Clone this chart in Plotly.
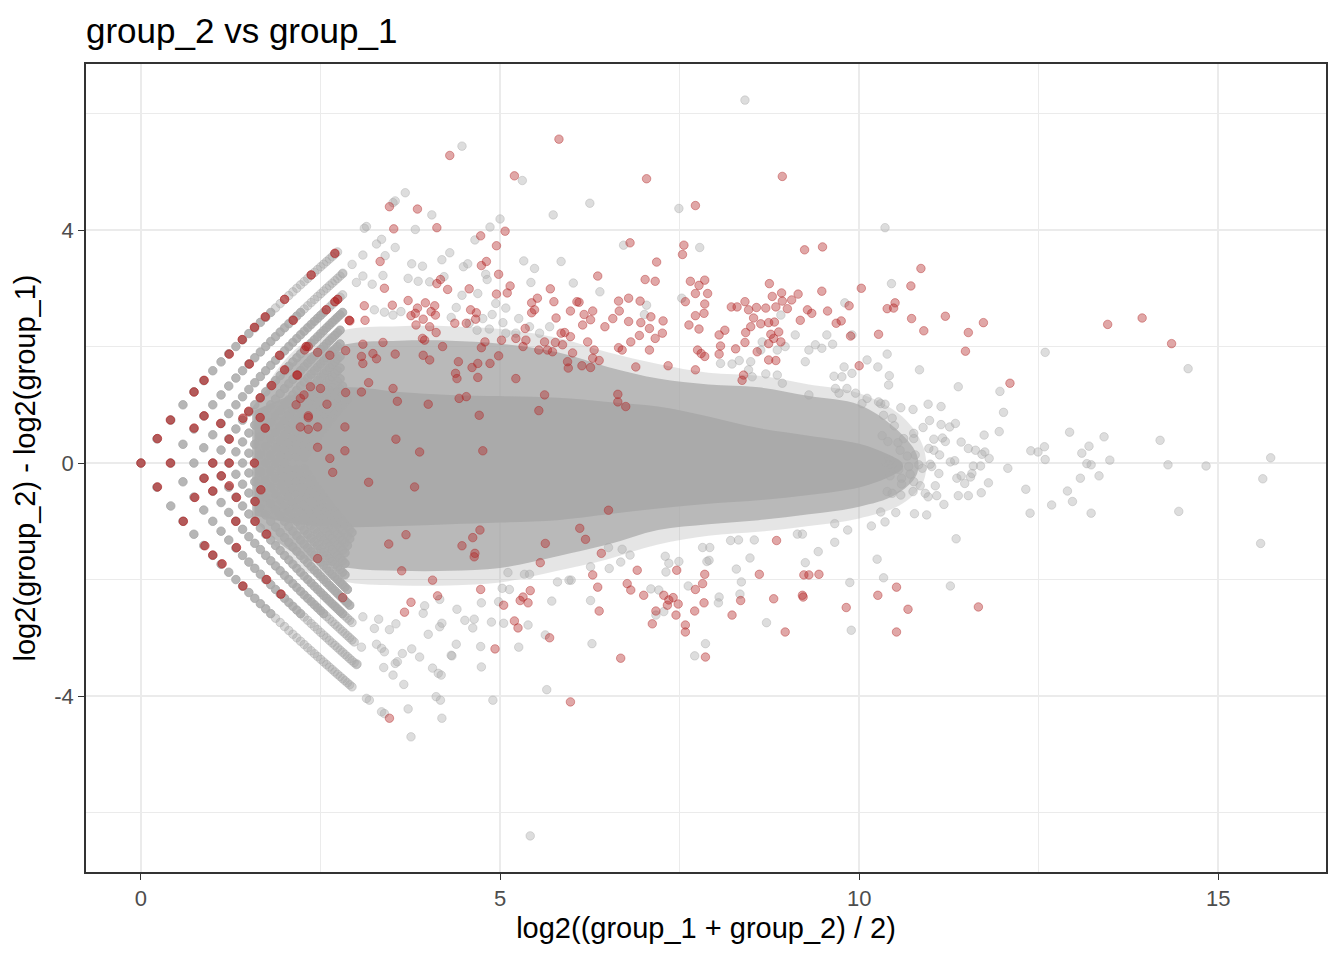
import numpy as np
import plotly.graph_objects as go

# MA plot: group_2 vs group_1
# low counts form a lattice: summed counts over 3 replicates (mean = sum / 3)
upper_arm_base = [3, 4, 5, 6, 7, 8, 9, 10, 11, 12, 13, 14]      # group_1 sum on each upper arm
upper_arm_top = [37, 38, 37, 36, 34, 33, 32, 31, 30, 30, 30, 30]  # largest group_2 sum seen on that arm
lower_arm_base = [3, 4, 5, 6, 7, 8, 9, 10, 11, 12, 13, 14]      # group_2 sum on each lower arm
lower_arm_top = [43, 44, 42, 40, 38, 36, 34, 33, 32, 32, 32, 32]  # largest group_1 sum seen on that arm
equal_counts = [3, 4, 5, 6, 7, 8, 9, 10, 11, 12]

# envelope of the dense cloud (too many overlapping genes to list one by one)
core_A = [1.58, 2.2, 2.9, 3.6, 4.3, 5.0, 5.8, 6.5, 7.2, 7.9, 8.6, 9.3, 10.0, 10.4, 10.6]
core_top = [0.9, 1.2, 1.3, 1.22, 1.17, 1.15, 1.12, 1.05, 0.97, 0.8, 0.6, 0.47, 0.33, 0.15, 0.0]
core_bottom = [-0.9, -1.05, -1.1, -1.08, -1.05, -1.02, -0.98, -0.88, -0.78, -0.7, -0.64, -0.55, -0.42, -0.25, -0.1]
halo_A = [1.55, 2.2, 2.9, 3.6, 4.3, 5.0, 5.8, 6.5, 7.2, 7.9, 8.6, 9.3, 10.0, 10.5, 10.8]
halo_top = [0.95, 1.8, 2.05, 2.1, 2.1, 2.05, 1.9, 1.65, 1.45, 1.35, 1.3, 1.15, 1.0, 0.6, 0.15]
halo_bottom = [-0.95, -1.6, -1.8, -1.85, -1.85, -1.8, -1.6, -1.4, -1.15, -1.05, -0.98, -0.88, -0.75, -0.55, -0.2]
fringe_A = [1.55, 2.2, 2.9, 3.6, 4.3, 5.0, 5.8, 6.5, 7.2, 7.9, 8.6, 9.3, 10.0, 10.6, 10.9]
fringe_top = [0.95, 2.0, 2.3, 2.35, 2.35, 2.3, 2.15, 1.9, 1.7, 1.55, 1.5, 1.35, 1.2, 0.8, 0.25]
fringe_bottom = [-0.95, -1.8, -2.05, -2.1, -2.1, -2.05, -1.85, -1.65, -1.4, -1.25, -1.18, -1.08, -0.95, -0.7, -0.3]

# scattered non-significant genes (A, M)
gray_upper = [
    (8.41, 6.23), (4.47, 5.44), (5.31, 4.85), (3.68, 4.64), (3.54, 4.50), (3.51, 4.47), (4.05, 4.26),
    (5.74, 4.26), (3.14, 4.06), (3.11, 4.03), (3.82, 4.01), (5.00, 4.19), (4.86, 4.05), (4.65, 3.83),
    (3.35, 3.84), (3.28, 3.76), (3.54, 3.70), (3.40, 3.56), (3.09, 3.57), (4.30, 3.61), (4.19, 3.49),
    (5.33, 3.47), (5.48, 3.34), (5.85, 3.46), (3.77, 3.42), (3.92, 3.38), (4.49, 3.37), (4.55, 3.42),
    (4.80, 3.24), (4.82, 3.15), (2.94, 3.41), (2.81, 3.26), (3.09, 3.21), (3.00, 3.10), (3.22, 3.07),
    (3.37, 3.22), (3.72, 3.17), (3.86, 3.12), (4.02, 3.11), (4.22, 3.20), (5.43, 3.10), (6.02, 3.09),
    (4.47, 2.88), (4.69, 2.91), (4.94, 2.74), (5.08, 2.66), (5.26, 2.48), (3.25, 2.63), (3.39, 2.59),
    (3.51, 2.54), (3.62, 2.60), (4.39, 2.67), (4.32, 2.50), (4.76, 2.48), (4.89, 2.55), (4.57, 2.40),
    (4.68, 2.28), (4.85, 2.30), (5.04, 2.41), (5.08, 2.23), (5.22, 2.23), (5.41, 2.34), (5.55, 2.23),
    (5.69, 2.34), (6.25, 4.46), (7.49, 4.37), (6.72, 3.74), (7.78, 3.70), (10.36, 4.04), (6.39, 2.94),
    (7.53, 2.83), (7.04, 2.71), (7.01, 2.55), (9.80, 2.75), (8.91, 2.54), (9.11, 2.20), (9.55, 2.20),
    (9.63, 2.04), (9.90, 2.20), (10.11, 1.77), (10.26, 1.65), (9.30, 1.94), (9.25, 1.74), (9.39, 2.03),
    (9.48, 1.97), (9.79, 1.65), (9.90, 1.54), (9.76, 1.48), (9.65, 1.49), (9.83, 1.28), (9.67, 1.28),
    (9.72, 1.20), (9.95, 1.20), (10.04, 1.02), (10.11, 1.11), (10.27, 1.05), (9.30, 1.17), (8.07, 1.71),
    (8.23, 1.70), (8.33, 1.76), (8.49, 1.74), (8.46, 1.60), (8.51, 1.48), (8.70, 1.53), (8.86, 1.51),
    (8.93, 1.37), (8.65, 2.08), (8.63, 1.94), (8.97, 2.00), (8.86, 1.94),
]
gray_right = [
    (10.45, 3.08), (10.39, 1.87), (10.84, 1.60), (10.42, 1.50), (10.41, 1.34), (11.38, 1.31), (11.96, 1.23),
    (12.01, 0.87), (12.59, 1.90), (14.58, 1.62), (11.95, 0.54), (11.74, 0.48), (12.07, -0.09), (11.80, -0.34),
    (11.70, -0.51), (11.52, -0.56), (11.38, -0.56), (11.18, -0.71), (11.35, -1.30), (10.94, -0.89),
    (10.77, -0.87), (10.51, -0.85), (10.36, -1.01), (12.32, -0.45), (12.38, -0.86), (12.68, -0.72),
    (12.90, -0.48), (12.97, -0.66), (13.08, -0.26), (13.34, -0.22), (13.23, -0.86), (12.39, 0.21),
    (12.49, 0.19), (12.58, 0.28), (12.59, 0.06), (12.93, 0.53), (13.10, 0.17), (13.20, 0.29), (13.17, -0.01),
    (13.23, -0.03), (13.41, 0.45), (13.49, 0.05), (14.19, 0.39), (14.30, -0.03), (14.83, -0.05),
    (14.45, -0.83), (15.73, 0.09), (15.62, -0.27), (15.59, -1.38), (10.36, 1.01), (10.30, 1.02),
    (10.58, 0.95), (10.75, 0.92), (10.96, 1.01), (11.14, 0.97), (10.46, 0.77), (10.49, 0.64), (10.34, 0.82),
    (10.98, 0.73), (10.89, 0.61), (11.14, 0.66), (11.26, 0.62), (11.34, 0.68), (10.32, 0.47), (10.40, 0.37),
    (10.54, 0.35), (10.62, 0.42), (10.76, 0.51), (10.76, 0.42), (11.04, 0.41), (11.16, 0.43), (11.20, 0.37),
    (11.42, 0.36), (10.97, 0.25), (11.04, 0.22), (11.12, 0.14), (11.52, 0.25), (11.62, 0.22), (11.71, 0.15),
    (11.75, 0.19), (11.81, 0.08), (10.57, 0.22), (10.67, 0.12), (10.78, 0.14), (10.83, -0.03), (10.37, 0.02),
    (10.43, 0.04), (10.41, -0.03), (10.55, -0.11), (10.69, -0.06), (10.71, -0.19), (10.88, -0.09),
    (10.99, -0.02), (11.01, -0.06), (11.27, 0.02), (11.33, 0.04), (11.59, -0.05), (11.69, -0.05),
    (11.42, -0.22), (11.57, -0.18), (11.55, -0.24), (11.36, -0.26), (11.47, -0.35), (10.43, -0.22),
    (10.59, -0.26), (10.59, -0.36), (10.76, -0.32), (10.85, -0.39), (11.06, -0.39), (11.11, -0.18),
    (10.39, -0.49), (10.46, -0.52), (10.58, -0.55), (10.75, -0.49), (10.92, -0.52), (10.96, -0.58),
    (11.08, -0.56), (10.30, -0.84), (11.27, -2.11), (10.34, -1.97),
]
gray_lower = [
    (3.76, -4.70), (3.35, -4.27), (3.39, -4.30), (3.72, -4.22), (4.19, -4.38), (4.11, -4.01), (4.17, -4.07),
    (4.90, -4.07), (5.65, -3.89), (3.14, -4.04), (3.18, -4.07), (3.01, -3.45), (3.51, -3.64), (3.66, -3.80),
    (3.38, -3.51), (3.54, -3.44), (4.06, -3.52), (4.14, -3.61), (4.18, -3.64), (4.74, -3.50), (4.39, -3.11),
    (4.33, -3.31), (3.88, -3.33), (3.64, -3.27), (3.77, -3.19), (3.57, -3.41), (3.28, -3.11), (3.35, -3.18),
    (3.39, -3.24), (3.07, -3.16), (4.73, -3.15), (5.26, -3.16), (4.00, -2.94), (4.16, -2.81), (4.19, -2.75),
    (4.32, -3.30), (4.88, -2.73), (5.05, -2.75), (5.39, -2.78), (5.72, -2.37), (5.63, -2.95), (4.40, -2.51),
    (4.51, -2.70), (4.64, -2.68), (4.74, -2.40), (4.62, -2.83), (3.46, -2.86), (3.55, -2.76), (3.31, -2.68),
    (3.25, -2.84), (3.09, -2.64), (3.95, -2.45), (4.16, -2.34), (3.93, -2.58), (5.34, -1.91), (5.41, -1.91),
    (5.11, -1.88), (5.03, -2.15), (5.13, -2.17), (4.98, -2.38), (5.80, -2.04), (5.96, -2.01), (5.42, -6.40),
    (6.28, -3.10), (7.71, -3.31), (7.86, -3.10), (8.71, -2.74), (9.89, -2.87), (9.87, -2.05), (10.25, -1.65),
    (8.48, -1.63), (8.36, -2.04), (8.34, -2.25), (8.29, -1.82), (8.05, -2.30), (8.04, -2.40), (7.62, -2.11),
    (7.10, -2.16), (7.21, -2.18), (7.28, -2.55), (7.17, -2.61), (6.26, -2.36), (9.25, -1.71), (9.43, -1.52),
    (9.66, -1.36), (9.84, -1.15), (9.66, -1.04), (10.17, -1.08), (9.14, -1.22), (9.21, -1.22), (8.54, -1.32),
    (8.21, -1.33), (8.32, -1.32), (7.82, -1.45), (7.92, -1.45), (7.91, -1.67), (7.88, -1.69), (7.49, -1.69),
    (7.30, -1.60), (7.35, -1.72), (7.31, -1.87), (6.68, -1.70), (6.52, -1.81), (6.26, -1.78), (5.99, -2.01),
    (6.81, -1.58), (6.70, -1.48), (6.51, -1.45),
]

# significant genes (A, M)
sig_lattice = [
    (0.00, 0.00), (0.23, 0.42), (0.41, 0.74), (0.88, 1.42), (0.74, 1.22), (1.23, 1.87), (1.41, 2.12),
    (1.58, 2.33), (1.73, 2.51), (2.00, 2.81), (2.37, 3.23), (2.70, 3.60), (0.41, 0.00), (1.00, 0.00),
    (1.23, 0.00), (1.58, 0.00), (0.88, 0.81), (0.74, 0.60), (1.11, 0.68), (1.23, 0.41), (1.51, 1.70),
    (2.12, 2.45), (1.73, 0.60), (2.00, 1.60), (1.82, 1.33), (2.18, 1.51), (2.70, 2.77), (2.74, 2.81),
    (2.58, 2.63), (2.90, 2.45), (2.30, 2.00), (1.93, 1.85), (1.66, 1.12), (1.50, 0.89), (1.42, 0.77),
    (1.66, 0.78), (0.23, -0.41), (0.88, -0.26), (1.00, -0.48), (0.75, -0.59), (0.59, -1.00), (1.12, -0.22),
    (1.23, -0.39), (1.33, -0.59), (1.67, -0.46), (1.59, -0.66), (1.32, -1.00), (1.59, -1.00), (1.75, -1.22),
    (0.89, -1.42), (1.00, -1.58), (1.13, -1.73), (1.33, -1.45), (1.42, -2.11), (1.75, -2.00), (1.95, -2.25),
]
sig_upper = [
    (4.30, 5.28), (5.82, 5.56), (5.20, 4.93), (3.46, 4.40), (3.85, 4.36), (3.52, 4.02), (4.12, 4.04),
    (5.07, 3.98), (4.73, 3.90), (4.95, 3.73), (3.33, 3.46), (4.74, 3.39), (4.81, 3.46), (4.98, 3.24),
    (3.39, 3.00), (4.17, 3.15), (4.12, 3.08), (4.27, 2.98), (4.57, 2.99), (5.14, 3.04), (5.10, 2.92),
    (4.95, 2.90), (5.70, 2.99), (5.75, 2.77), (5.52, 2.83), (5.44, 2.75), (5.48, 2.63), (5.44, 2.58),
    (6.07, 2.77), (5.98, 2.61), (5.78, 2.49), (3.11, 2.70), (3.50, 2.71), (3.72, 2.79), (3.96, 2.75),
    (3.85, 2.66), (3.82, 2.57), (3.76, 2.53), (4.09, 2.70), (4.04, 2.60), (4.10, 2.54), (4.59, 2.63),
    (4.67, 2.58), (4.66, 2.47), (3.12, 2.45), (2.91, 2.44), (3.93, 2.47), (4.02, 2.34), (4.37, 2.40),
    (4.53, 2.40), (3.83, 2.37), (4.11, 2.24), (5.35, 2.31), (3.92, 2.14), (3.95, 2.11), (4.20, 2.00),
    (4.79, 2.08), (4.74, 1.98), (5.02, 2.11), (5.22, 2.14), (5.36, 2.11), (5.32, 2.00), (5.54, 1.94),
    (5.62, 2.08), (5.66, 1.94), (5.73, 1.91), (5.77, 2.07), (5.85, 2.23), (5.90, 2.24), (5.98, 2.17),
    (5.87, 2.03), (6.01, 1.89), (3.09, 2.04), (2.85, 1.93), (2.63, 1.85), (2.46, 1.90), (2.28, 1.94),
    (2.33, 2.00), (3.07, 1.83), (3.23, 1.88), (3.28, 1.79), (3.37, 2.07), (3.54, 1.87), (3.93, 1.85),
    (4.02, 1.77), (4.42, 1.74), (4.38, 1.54), (4.40, 1.45), (4.61, 1.64), (4.69, 1.71), (4.69, 1.47),
    (4.86, 1.71), (4.98, 1.84), (5.22, 1.45), (5.62, 1.17), (5.54, 0.90), (5.94, 1.74), (5.95, 1.63),
    (2.17, 1.51), (2.36, 1.31), (2.50, 1.28), (2.27, 1.17), (2.22, 1.11), (2.16, 1.00), (2.59, 1.01),
    (2.85, 1.21), (3.07, 1.22), (3.17, 1.38), (3.51, 1.28), (3.57, 1.06), (4.00, 1.01), (4.43, 1.11),
    (4.53, 1.14), (4.71, 0.82), (2.33, 0.81), (3.09, 1.71), (2.84, 0.62), (2.46, 0.62), (2.33, 0.58),
    (2.22, 0.62), (2.33, 0.78), (3.55, 0.41), (2.46, 0.27), (2.84, 0.21), (2.63, 0.08), (2.67, -0.16),
    (3.88, 0.19), (4.76, 0.21), (3.17, -0.33), (3.81, -0.41),
    (7.04, 4.88), (8.93, 4.92), (7.72, 4.42), (6.81, 3.78), (7.56, 3.74), (7.54, 3.58), (7.18, 3.45),
    (9.24, 3.66), (9.49, 3.71), (6.36, 3.21), (7.02, 3.15), (7.16, 3.12), (7.65, 3.12), (7.77, 3.05),
    (7.85, 3.14), (7.89, 2.91), (7.72, 2.91), (7.85, 2.73), (7.72, 2.53), (7.84, 2.57), (7.77, 2.30),
    (7.63, 2.37), (7.58, 2.77), (6.65, 2.78), (6.79, 2.83), (6.95, 2.78), (6.66, 2.61), (6.10, 2.76),
    (6.17, 2.55), (6.29, 2.61), (6.15, 2.37), (6.26, 2.46), (6.46, 2.34), (6.57, 2.48), (6.79, 2.43),
    (6.96, 2.41), (7.10, 2.51), (7.27, 2.44), (7.26, 2.23), (7.08, 2.31), (7.16, 2.14), (6.94, 2.19),
    (6.82, 2.08), (6.22, 2.08), (6.31, 1.94), (6.65, 1.98), (6.70, 1.94), (6.14, 1.67), (6.26, 1.64),
    (6.38, 1.76), (6.29, 1.80), (6.89, 1.65), (7.08, 1.94), (6.64, 1.18), (6.64, 1.05), (6.75, 0.97),
    (8.05, 2.20), (8.13, 2.28), (8.07, 2.01), (8.05, 1.87), (7.80, 1.88), (7.75, 1.94), (7.85, 1.83),
    (7.34, 1.67), (7.72, 1.60), (8.39, 1.51), (8.37, 1.42), (8.22, 2.68), (8.30, 2.68), (8.41, 2.77),
    (8.46, 2.63), (8.53, 2.49), (8.49, 2.34), (8.42, 2.24), (8.41, 2.07), (8.28, 1.96), (8.58, 1.91),
    (8.63, 2.39), (8.74, 2.41), (8.82, 2.42), (8.77, 2.21), (8.81, 2.14), (8.88, 2.25), (8.91, 2.08),
    (8.74, 2.05), (8.75, 3.08), (8.79, 2.86), (8.92, 2.92), (8.93, 2.78), (9.00, 2.65), (9.06, 2.80),
    (9.15, 2.90), (8.57, 2.67), (8.70, 2.66), (8.84, 2.68), (9.18, 2.45), (9.28, 2.63), (9.34, 2.57),
    (9.48, 2.95), (9.56, 2.61), (9.68, 2.40), (9.75, 2.44), (9.86, 2.70), (9.88, 2.18), (10.03, 3.00),
    (10.27, 2.21), (10.39, 2.65), (10.50, 2.75), (10.48, 2.66), (10.00, 1.67), (8.84, 1.76), (8.74, 1.77),
    (10.86, 3.34), (10.72, 3.04), (10.73, 2.48), (11.20, 2.52), (10.90, 2.27), (11.52, 2.24), (11.73, 2.41),
    (11.48, 1.92), (12.10, 1.37), (13.46, 2.38), (13.94, 2.49), (14.35, 2.05),
]
sig_lower = [
    (3.69, -1.23), (3.45, -1.39), (2.46, -1.64), (3.63, -1.85), (4.06, -2.01), (4.13, -2.28), (3.76, -2.39),
    (3.67, -2.56), (2.81, -2.31), (4.47, -1.42), (4.62, -1.28), (4.72, -1.15), (4.65, -1.55), (4.64, -1.61),
    (4.73, -2.17), (5.05, -2.44), (4.93, -3.19), (5.63, -1.38), (5.56, -1.71), (5.42, -2.19), (5.32, -2.30),
    (5.28, -2.36), (5.39, -2.40), (5.20, -2.71), (5.25, -2.83), (5.69, -3.00), (5.98, -4.10), (3.46, -4.38),
    (6.51, -0.81), (6.11, -1.12), (6.19, -1.31), (6.41, -1.55), (6.29, -1.92), (6.36, -2.13), (6.38, -2.54),
    (6.91, -1.84), (6.77, -2.07), (6.82, -2.18), (7.00, -2.27), (7.28, -2.27), (7.35, -2.35), (7.41, -2.31),
    (7.33, -2.44), (7.48, -2.42), (7.17, -2.54), (7.45, -2.61), (7.12, -2.76), (7.46, -1.84), (7.58, -2.78),
    (7.58, -2.90), (7.71, -2.54), (7.84, -2.40), (7.72, -2.17), (7.82, -2.07), (7.85, -1.91), (7.86, -3.33),
    (6.68, -3.35), (8.23, -2.61), (8.35, -2.36), (8.61, -1.91), (8.81, -2.33), (8.85, -1.33), (8.97, -2.90),
    (9.21, -2.27), (9.22, -2.30), (9.23, -1.92), (9.30, -1.92), (9.44, -1.91), (9.82, -2.48), (10.26, -2.27),
    (10.52, -2.13), (10.52, -2.90), (10.68, -2.51), (11.66, -2.47),
]

x_ticks = [0, 5, 10, 15]
y_ticks = [-4, 0, 4]
y_tick_labels = ["-4", "0", "4"]

GRAY = "rgba(169,169,169,0.4)"
RED = "rgba(178,34,34,0.4)"
RED_STACKED = "rgba(178,34,34,0.62)"   # several genes share each lattice spot
PT = 8.5

# lattice of low-count genes
lat_g1, lat_g2 = [], []
for base, top in zip(upper_arm_base, upper_arm_top):
    for k in range(base + 1, top + 1):
        lat_g1.append(base)
        lat_g2.append(k)
for base, top in zip(lower_arm_base, lower_arm_top):
    for k in range(base + 1, top + 1):
        lat_g1.append(k)
        lat_g2.append(base)
for c in equal_counts:
    lat_g1.append(c)
    lat_g2.append(c)

g1 = np.array(lat_g1) / 3.0
g2 = np.array(lat_g2) / 3.0
lat_A = np.log2((g1 + g2) / 2)
lat_M = np.log2(g2) - np.log2(g1)
# arm tips hold few genes, so they look lighter
lat_colors = ["rgba(169,169,169,0.45)" if abs(m) > 2.6 else "rgba(169,169,169,0.85)" for m in lat_M]

gray_pts = gray_upper + gray_right + gray_lower
sig_pts = sig_upper + sig_lower

fig = go.Figure()

# dense cloud, from outer fringe to the solid core
for xs, top, bottom, fill in [
    (fringe_A, fringe_top, fringe_bottom, "rgba(169,169,169,0.3)"),
    (halo_A, halo_top, halo_bottom, "rgba(169,169,169,0.75)"),
    (core_A, core_top, core_bottom, "rgb(170,170,170)"),
]:
    fig.add_trace(go.Scatter(
        x=xs + xs[::-1], y=top + bottom[::-1],
        fill="toself", fillcolor=fill, line_shape="spline",
        mode="lines", line=dict(width=0), hoverinfo="skip", showlegend=False
    ))

fig.add_trace(go.Scatter(
    x=lat_A, y=lat_M, mode="markers",
    marker=dict(size=PT, color=lat_colors, line=dict(width=1, color=lat_colors)),
    hoverinfo="skip", showlegend=False
))

fig.add_trace(go.Scatter(
    x=[p[0] for p in gray_pts], y=[p[1] for p in gray_pts], mode="markers",
    marker=dict(size=PT, color=GRAY, line=dict(width=1, color=GRAY)),
    hoverinfo="skip", showlegend=False
))

fig.add_trace(go.Scatter(
    x=[p[0] for p in sig_lattice], y=[p[1] for p in sig_lattice], mode="markers",
    marker=dict(size=PT, color=RED_STACKED, line=dict(width=1, color=RED_STACKED)),
    hoverinfo="skip", showlegend=False
))

fig.add_trace(go.Scatter(
    x=[p[0] for p in sig_pts], y=[p[1] for p in sig_pts], mode="markers",
    marker=dict(size=PT, color=RED, line=dict(width=1, color=RED)),
    hoverinfo="skip", showlegend=False
))

axis_common = dict(
    showline=True, mirror=True, linecolor="#333333", linewidth=1.5,
    ticks="outside", ticklen=6, tickwidth=1.3, tickcolor="#333333",
    showgrid=True, gridcolor="#ebebeb", gridwidth=2.2, zeroline=False,
    tickfont=dict(size=22, color="#4d4d4d"),
)

# the page has an 8px body margin, so the figure is sized to sit inside it
fig.update_layout(
    width=1328, height=944,
    margin=dict(l=78, r=8, t=56, b=80),
    paper_bgcolor="white", plot_bgcolor="white",
    font=dict(family="Liberation Sans, Arial, sans-serif", color="black"),
    title=dict(
        text="group_2 vs group_1", x=0, xref="paper", xanchor="left",
        y=1 - 23 / 944, yref="container", yanchor="middle",
        font=dict(size=35, color="black")
    ),
    xaxis=dict(
        range=[-0.765, 16.5], tickvals=x_ticks, ticktext=[str(t) for t in x_ticks],
        minor=dict(tickvals=[2.5, 7.5, 12.5], showgrid=True, gridcolor="#ebebeb", gridwidth=1.1, ticks=""),
        title=dict(text="log2((group_1 + group_2) / 2)", font=dict(size=29), standoff=8),
        **axis_common
    ),
    yaxis=dict(
        range=[-7.02, 6.85], tickvals=y_ticks, ticktext=y_tick_labels,
        minor=dict(tickvals=[-6, -2, 2, 6], showgrid=True, gridcolor="#ebebeb", gridwidth=1.1, ticks=""),
        title=dict(text="log2(group_2) - log2(group_1)", font=dict(size=29), standoff=10),
        **axis_common
    ),
)

fig.write_html("out.html")
